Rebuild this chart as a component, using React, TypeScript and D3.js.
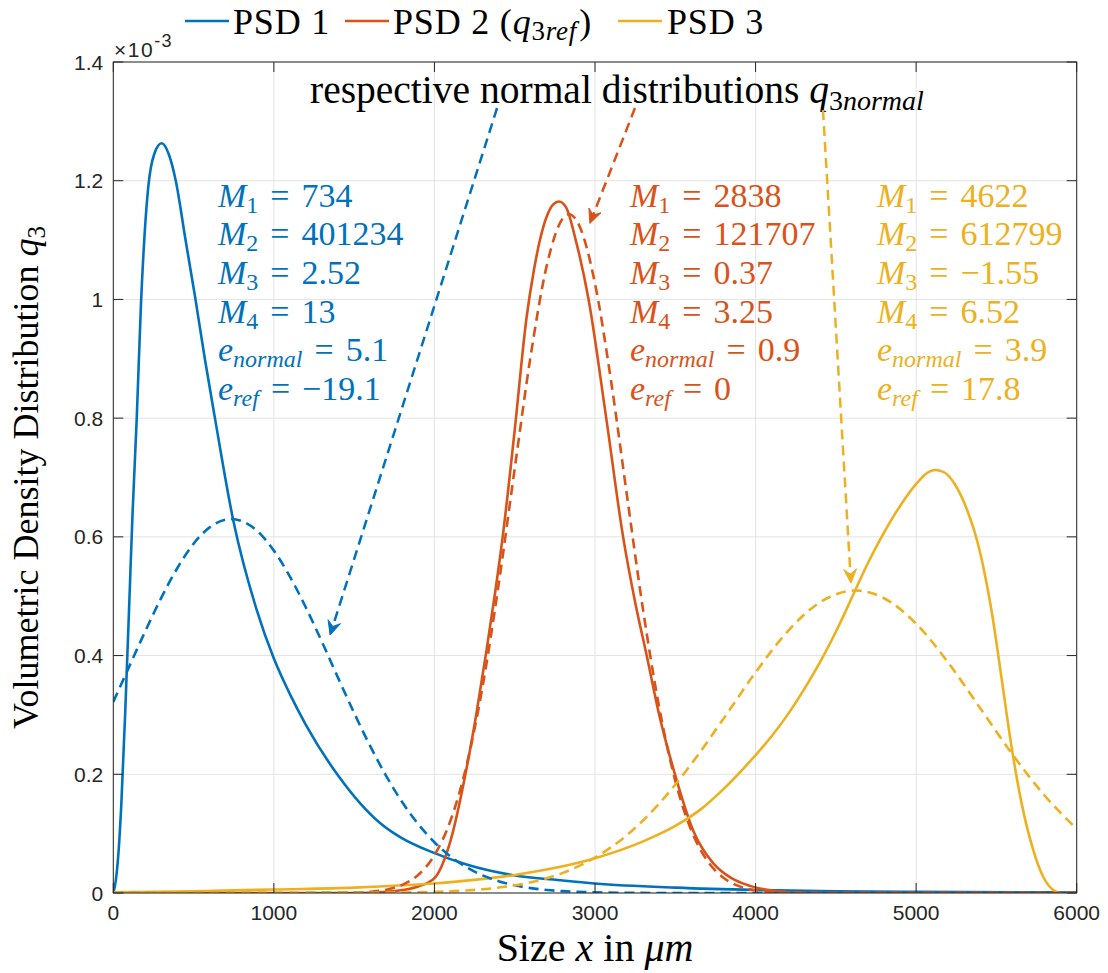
import React from "react";
import * as d3 from "d3";

// ---------- data (values in units of 1e-3) ----------
const xTicks = [0, 1000, 2000, 3000, 4000, 5000, 6000];
const yTicks = [0, 0.2, 0.4, 0.6, 0.8, 1, 1.2, 1.4];
const yTickLabels = ["0", "0.2", "0.4", "0.6", "0.8", "1", "1.2", "1.4"];

const psd1: [number, number][] = [
  [0, 0], [15, 0.02], [30, 0.06], [50, 0.15], [75, 0.31], [98, 0.477], [120, 0.64],
  [146, 0.8], [172, 0.99], [195, 1.11], [218, 1.19], [255, 1.245], [301, 1.263],
  [345, 1.245], [389, 1.2], [450, 1.1], [509, 1.005], [570, 0.9], [633, 0.8],
  [747, 0.628], [893, 0.477], [1000, 0.395], [1100, 0.335], [1200, 0.283],
  [1400, 0.198], [1661, 0.118], [1800, 0.092], [1993, 0.068], [2200, 0.048],
  [2491, 0.03], [2800, 0.021], [3000, 0.016], [3500, 0.009], [4000, 0.005],
  [4500, 0.003], [5000, 0.002], [6000, 0.001],
];

const psd2: [number, number][] = [
  [0, 0], [1500, 0], [1700, 0.002], [1800, 0.005], [1900, 0.011], [2000, 0.025],
  [2100, 0.088], [2190, 0.196], [2260, 0.3], [2325, 0.41], [2380, 0.51],
  [2425, 0.6], [2500, 0.78], [2574, 0.97], [2620, 1.05], [2657, 1.1], [2700, 1.14],
  [2740, 1.16], [2776, 1.165], [2820, 1.155], [2880, 1.1], [2960, 1.0],
  [3070, 0.8], [3175, 0.6], [3250, 0.49], [3322, 0.4], [3400, 0.3], [3498, 0.2],
  [3612, 0.105], [3737, 0.05], [3850, 0.025], [3965, 0.012], [4100, 0.004],
  [4200, 0.0012], [4400, 0], [6000, 0],
];

const psd3: [number, number][] = [
  [0, 0.001], [500, 0.003], [1000, 0.006], [1500, 0.009], [1661, 0.011],
  [1993, 0.016], [2491, 0.03], [3000, 0.0585], [3300, 0.087], [3500, 0.113],
  [3654, 0.14], [3800, 0.175], [3986, 0.228], [4100, 0.264], [4214, 0.306],
  [4320, 0.351], [4422, 0.399], [4520, 0.451], [4607, 0.502], [4700, 0.556],
  [4785, 0.6], [4900, 0.652], [5003, 0.69], [5060, 0.706], [5122, 0.7126],
  [5180, 0.708], [5240, 0.689], [5315, 0.647], [5360, 0.612], [5400, 0.572],
  [5440, 0.52], [5470, 0.475], [5533, 0.36], [5595, 0.245], [5657, 0.151],
  [5730, 0.072], [5792, 0.027], [5865, 0.003], [5900, 0], [6000, 0],
];

const normal1: [number, number][] = [
  [0, 0.322], [100, 0.382], [200, 0.4416], [300, 0.498], [400, 0.548], [500, 0.5885],
  [600, 0.616], [734, 0.63], [800, 0.6266], [900, 0.609], [1000, 0.5768],
  [1100, 0.533], [1200, 0.4806], [1300, 0.4227], [1400, 0.3624], [1500, 0.3032],
  [1600, 0.2475], [1700, 0.197], [1800, 0.1528], [1900, 0.1157], [2000, 0.0855],
  [2100, 0.0616], [2200, 0.0433], [2300, 0.0297], [2400, 0.0198], [2500, 0.0129],
  [2600, 0.0082], [2700, 0.0051], [2800, 0.0031], [3000, 0.00105], [3200, 0.0003],
  [3500, 0], [4000, 0], [5000, 0], [6000, 0],
];

const normal2: [number, number][] = [
  [0, 0], [1000, 0], [1500, 0.0007], [1600, 0.0021], [1700, 0.0056], [1800, 0.0137],
  [1900, 0.0308], [2000, 0.0639], [2100, 0.122], [2200, 0.2149], [2300, 0.348],
  [2400, 0.52], [2500, 0.715], [2600, 0.906], [2700, 1.0575], [2800, 1.1368],
  [2838, 1.1435], [2900, 1.1256], [3000, 1.0267], [3100, 0.8626], [3200, 0.6676],
  [3300, 0.4759], [3400, 0.3125], [3500, 0.189], [3600, 0.1053], [3700, 0.0541],
  [3800, 0.02555], [3900, 0.0111], [4000, 0.0045], [4200, 0.0006], [4500, 0], [6000, 0],
];

const normal3: [number, number][] = [
  [0, 0], [1000, 0], [1500, 0.0002], [1800, 0.0008], [2000, 0.0019], [2200, 0.00425],
  [2400, 0.0092], [2600, 0.0181], [2800, 0.0339], [3000, 0.0596], [3200, 0.0978],
  [3400, 0.1507], [3600, 0.2173], [3800, 0.2936], [4000, 0.3717], [4200, 0.4407],
  [4400, 0.4895], [4622, 0.5096], [4800, 0.4966], [5000, 0.4536], [5200, 0.388],
  [5400, 0.311], [5600, 0.2335], [5800, 0.1643], [6000, 0.1082],
];

// annotation stats: [symbol, subscript, value]
const stats1 = [["M", "1", "734"], ["M", "2", "401234"], ["M", "3", "2.52"], ["M", "4", "13"], ["e", "normal", "5.1"], ["e", "ref", "\u221219.1"]];
const stats2 = [["M", "1", "2838"], ["M", "2", "121707"], ["M", "3", "0.37"], ["M", "4", "3.25"], ["e", "normal", "0.9"], ["e", "ref", "0"]];
const stats3 = [["M", "1", "4622"], ["M", "2", "612799"], ["M", "3", "\u22121.55"], ["M", "4", "6.52"], ["e", "normal", "3.9"], ["e", "ref", "17.8"]];

// arrows in data coordinates: [x0, y0, x1, y1]
const arrow1 = [2390, 1.3225, 1350, 0.4346];
const arrow2 = [3249, 1.3225, 2968, 1.128];
const arrow3 = [4420, 1.319, 4594, 0.522];

const BLUE = "#0072BD";
const RED = "#D95319";
const YELLOW = "#EDB120";
const AX = "#262626";
const GRID = "#e3e3e3";
const SERIF = "'Liberation Serif', 'Times New Roman', serif";
const SANS = "'Liberation Sans', Arial, Helvetica, sans-serif";

const W = 1108, H = 973;
const L = 113.3, R = 1076.7, T = 62, B = 893;

export default function App() {
  const x = d3.scaleLinear().domain([0, 6000]).range([L, R]);
  const y = d3.scaleLinear().domain([0, 1.4]).range([B, T]);
  const line = d3.line<[number, number]>().x(d => x(d[0])).y(d => y(d[1])).curve(d3.curveMonotoneX);

  const renderArrow = (a: number[], color: string, key: string) => {
    const x0 = x(a[0]), y0 = y(a[1]), x1 = x(a[2]), y1 = y(a[3]);
    const ang = Math.atan2(y1 - y0, x1 - x0);
    const hl = 14, hw = 6.5, back = 9;
    const ux = Math.cos(ang), uy = Math.sin(ang);
    const px = -uy, py = ux;
    const bx = x1 - ux * hl, by = y1 - uy * hl;
    const ix = x1 - ux * back, iy = y1 - uy * back;
    const head = `M${x1},${y1} L${bx + px * hw},${by + py * hw} L${ix},${iy} L${bx - px * hw},${by - py * hw} Z`;
    return (
      <g key={key}>
        <line x1={x0} y1={y0} x2={ix} y2={iy} stroke={color} strokeWidth={2.5} strokeDasharray="10,6" />
        <path d={head} fill={color} stroke={color} strokeWidth={1} />
      </g>
    );
  };

  const renderStats = (stats: string[][], x0: number, color: string, key: string) => (
    <g key={key} fill={color} fontFamily={SERIF} fontSize={34}>
      {stats.map((s, i) => {
        const italicSub = s[1].length > 1;
        return (
          <text key={i} x={x0} y={206.5 + i * 38.7}>
            <tspan fontStyle="italic">{s[0]}</tspan>
            <tspan fontSize={24} dy={6} fontStyle={italicSub ? "italic" : "normal"}>{s[1]}</tspan>
            <tspan dy={-6} dx={12}>=</tspan>
            <tspan dx={12}>{s[2]}</tspan>
          </text>
        );
      })}
    </g>
  );

  return (
    <svg width={W} height={H} style={{ position: "absolute", left: 0, top: 0, background: "#fff" }}>
      <rect x={0} y={0} width={W} height={H} fill="#fff" />
      <defs>
        <clipPath id="plotclip">
          <rect x={L} y={T} width={R - L} height={B - T} />
        </clipPath>
      </defs>
      {/* grid */}
      <g stroke={GRID} strokeWidth={1}>
        {xTicks.map(t => <line key={"gx" + t} x1={x(t)} x2={x(t)} y1={T} y2={B} />)}
        {yTicks.map(t => <line key={"gy" + t} x1={L} x2={R} y1={y(t)} y2={y(t)} />)}
      </g>
      {/* curves */}
      <g clipPath="url(#plotclip)" fill="none" strokeWidth={2.6} strokeLinejoin="round">
        <path d={line(psd1) || ""} stroke={BLUE} />
        <path d={line(psd2) || ""} stroke={RED} />
        <path d={line(psd3) || ""} stroke={YELLOW} />
        <path d={line(normal1) || ""} stroke={BLUE} strokeDasharray="10,6" />
        <path d={line(normal2) || ""} stroke={RED} strokeDasharray="10,6" />
        <path d={line(normal3) || ""} stroke={YELLOW} strokeDasharray="10,6" />
      </g>
      {/* axes box and ticks */}
      <g stroke={AX} strokeWidth={1} fill="none">
        <rect x={L} y={T} width={R - L} height={B - T} />
        {xTicks.map(t => <line key={"tb" + t} x1={x(t)} x2={x(t)} y1={B} y2={B - 10} />)}
        {xTicks.map(t => <line key={"tt" + t} x1={x(t)} x2={x(t)} y1={T} y2={T + 10} />)}
        {yTicks.map(t => <line key={"tl" + t} x1={L} x2={L + 10} y1={y(t)} y2={y(t)} />)}
        {yTicks.map(t => <line key={"tr" + t} x1={R} x2={R - 10} y1={y(t)} y2={y(t)} />)}
      </g>
      {/* tick labels */}
      <g fill={AX} fontFamily={SANS} fontSize={21}>
        {xTicks.map(t => <text key={"xl" + t} x={x(t)} y={920} textAnchor="middle">{t}</text>)}
        {yTicks.map((t, i) => <text key={"yl" + t} x={L - 10} y={y(t) + 7.5} textAnchor="end">{yTickLabels[i]}</text>)}
        <text x={114} y={57} letterSpacing={1.5}>
          <tspan>{"\u00d710"}</tspan>
          <tspan fontSize={18} dy={-10}>-3</tspan>
        </text>
      </g>
      {/* axis labels */}
      <text x={(L + R) / 2} y={961} textAnchor="middle" fontFamily={SERIF} fontSize={40} fill="#000">
        <tspan>Size </tspan><tspan fontStyle="italic">x</tspan><tspan> in </tspan><tspan fontStyle="italic">{"\u03bcm"}</tspan>
      </text>
      <text transform={`translate(38,${(T + B) / 2}) rotate(-90)`} textAnchor="middle" fontFamily={SERIF} fontSize={36} fill="#000">
        <tspan>Volumetric Density Distribution </tspan><tspan fontStyle="italic">q</tspan><tspan fontSize={25} dy={7}>3</tspan>
      </text>
      {/* legend */}
      <g fontFamily={SERIF} fontSize={36} fill="#000" letterSpacing={0.8}>
        <line x1={185} x2={229} y1={21} y2={21} stroke={BLUE} strokeWidth={2.6} />
        <text x={233} y={34}>PSD 1</text>
        <line x1={345} x2={389} y1={21} y2={21} stroke={RED} strokeWidth={2.6} />
        <text x={393} y={34}>
          <tspan>PSD 2 (</tspan><tspan fontStyle="italic">q</tspan>
          <tspan fontSize={27} dy={6}>3</tspan><tspan fontSize={27} fontStyle="italic">ref</tspan>
          <tspan dy={-6} dx={2}>)</tspan>
        </text>
        <line x1={618} x2={662} y1={21} y2={21} stroke={YELLOW} strokeWidth={2.6} />
        <text x={667} y={34}>PSD 3</text>
      </g>
      {/* title annotation */}
      <text x={310} y={103} fontFamily={SERIF} fontSize={39.5} fill="#000">
        <tspan>respective normal distributions </tspan><tspan fontStyle="italic">q</tspan>
        <tspan fontSize={28} dy={7}>3</tspan><tspan fontSize={28} fontStyle="italic">normal</tspan>
      </text>
      {/* arrows */}
      {renderArrow(arrow1, BLUE, "a1")}
      {renderArrow(arrow2, RED, "a2")}
      {renderArrow(arrow3, YELLOW, "a3")}
      {/* stats */}
      {renderStats(stats1, 218, BLUE, "s1")}
      {renderStats(stats2, 630, RED, "s2")}
      {renderStats(stats3, 877, YELLOW, "s3")}
    </svg>
  );
}
